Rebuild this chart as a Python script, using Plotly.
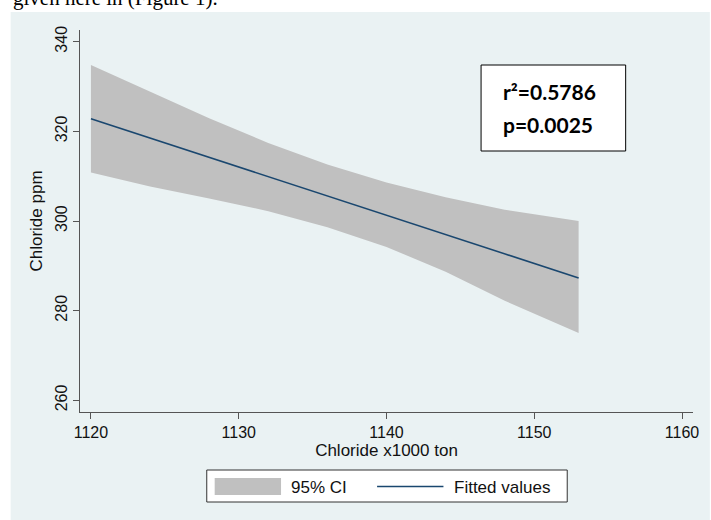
import plotly.graph_objects as go

# ---- data ----
ci_x = [1120, 1124, 1128, 1132, 1136, 1140, 1144, 1148, 1153]
ci_upper = [334.8, 328.8, 322.9, 317.4, 312.6, 308.6, 305.3, 302.5, 300.0]
ci_lower = [310.8, 307.7, 305.0, 302.2, 298.6, 294.2, 288.7, 282.2, 275.0]
fit_x = [1120, 1153]
fit_y = [322.8, 287.3]

x_ticks = [1120, 1130, 1140, 1150, 1160]
y_ticks = [260, 280, 300, 320, 340]
grid_y = [280, 300, 320, 340]

stats_lines = ["r²=0.5786", "p=0.0025"]
legend_labels = ["95% CI", "Fitted values"]
caption = "given here in (Figure 1)."

# ---- layout geometry (pixels) ----
W, H = 711, 520
L, R, T, B = 80, 12, 30, 108
PW, PH = W - L - R, H - T - B

def pxx(px):
    return (px - L) / PW

def pxy(py):
    return (H - B - py) / PH

BG = "#EAF2F3"
CI_COL = "#C0C0C0"
LINE_COL = "#1A476F"
AX_COL = "#555555"
FONT = "Liberation Sans, Arial, sans-serif"

fig = go.Figure()
fig.add_trace(go.Scatter(
    x=ci_x + ci_x[::-1], y=ci_upper + ci_lower[::-1],
    fill="toself", fillcolor=CI_COL, line=dict(width=0),
    mode="lines", name=legend_labels[0], showlegend=False, hoverinfo="skip"))
fig.add_trace(go.Scatter(
    x=fit_x, y=fit_y, mode="lines", line=dict(color=LINE_COL, width=1.6),
    name=legend_labels[1], showlegend=False))

shapes = []
# Stata-style outer background
shapes.append(dict(type="rect", xref="paper", yref="paper", layer="below",
                   x0=pxx(10), x1=pxx(W + 5), y0=pxy(12), y1=pxy(H + 5),
                   fillcolor=BG, line=dict(width=0)))
# gridlines
for v in grid_y:
    shapes.append(dict(type="line", xref="paper", yref="y", layer="below",
                       x0=0, x1=1, y0=v, y1=v, line=dict(color=BG, width=1.6)))
# stats box
shapes.append(dict(type="rect", xref="paper", yref="paper", layer="above",
                   x0=pxx(485), x1=pxx(631), y0=pxy(65), y1=pxy(151),
                   fillcolor="white", line=dict(color="black", width=1)))
# legend box
shapes.append(dict(type="rect", xref="paper", yref="paper", layer="above",
                   x0=pxx(208), x1=pxx(572), y0=pxy(470), y1=pxy(502),
                   fillcolor="white", line=dict(color="#333333", width=1)))
shapes.append(dict(type="rect", xref="paper", yref="paper", layer="above",
                   x0=pxx(216), x1=pxx(283), y0=pxy(478), y1=pxy(495),
                   fillcolor=CI_COL, line=dict(width=0)))
shapes.append(dict(type="line", xref="paper", yref="paper", layer="above",
                   x0=pxx(380), x1=pxx(447), y0=pxy(486.5), y1=pxy(486.5),
                   line=dict(color=LINE_COL, width=1.6)))

annotations = []
annotations.append(dict(text=caption, xref="paper", yref="paper",
                        x=pxx(10), y=pxy(12), xanchor="left", yanchor="bottom",
                        showarrow=False,
                        font=dict(family="Liberation Serif, Times New Roman, serif",
                                  size=21, color="black")))
for txt, py in zip(stats_lines, [91.7, 125]):
    annotations.append(dict(text="<b>%s</b>" % txt, xref="paper", yref="paper",
                            x=pxx(505), y=pxy(py), xanchor="left", yanchor="middle",
                            showarrow=False,
                            font=dict(family="Lato, Carlito, sans-serif", size=21,
                                      color="black")))
for txt, px in zip(legend_labels, [291, 456]):
    annotations.append(dict(text=txt, xref="paper", yref="paper",
                            x=pxx(px), y=pxy(487.5), xanchor="left", yanchor="middle",
                            showarrow=False,
                            font=dict(family=FONT, size=17, color="#111111")))

fig.update_layout(
    width=W, height=H,
    margin=dict(l=L, r=R, t=T, b=B, pad=0),
    paper_bgcolor="white", plot_bgcolor="white",
    showlegend=False,
    shapes=shapes, annotations=annotations,
    font=dict(family=FONT, size=16, color="#111111"),
    xaxis=dict(range=[1119.26, 1160.74], tickvals=x_ticks,
               ticktext=[str(v) for v in x_ticks],
               showgrid=False, zeroline=False,
               showline=True, linecolor=AX_COL, linewidth=1,
               ticks="outside", ticklen=6, tickcolor=AX_COL, tickwidth=1,
               tickfont=dict(size=16, color="#111111"),
               title=dict(text="Chloride x1000 ton", font=dict(size=17, color="#111111"),
                          standoff=3)),
    yaxis=dict(range=[257.4, 342.6], tickvals=y_ticks,
               ticktext=[str(v) for v in y_ticks],
               showgrid=False, zeroline=False,
               showline=True, linecolor=AX_COL, linewidth=1,
               ticks="outside", ticklen=6, tickcolor=AX_COL, tickwidth=1,
               tickangle=-90,
               tickfont=dict(size=16, color="#111111"),
               title=dict(text="Chloride ppm", font=dict(size=17, color="#111111"),
                          standoff=5)),
)

fig.write_html("out.html", config={"displayModeBar": False},
               post_script="document.body.style.margin='0';document.body.style.padding='0';")
